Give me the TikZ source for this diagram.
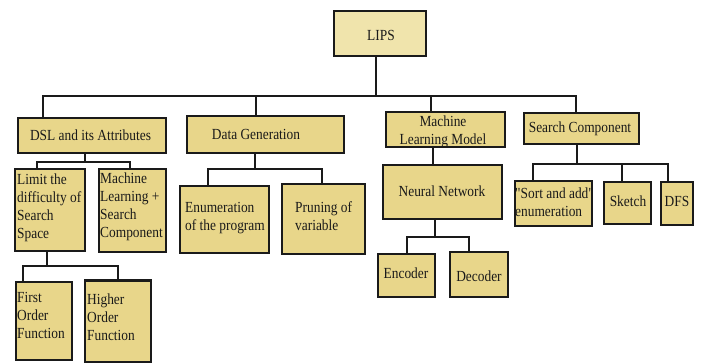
\documentclass[tikz,border=0pt]{standalone}
\usepackage{fontspec}
\setmainfont{Liberation Serif}[FakeStretch=0.87, Ligatures=TeXOff]
\definecolor{boxfill}{HTML}{E8D68A}
\definecolor{lipsfill}{HTML}{F0E4AC}
\definecolor{ink}{HTML}{1A1A1A}
\newcommand{\firstln}{\rule{0pt}{11pt}}
\begin{document}
\begin{tikzpicture}[x=1pt,y=-1pt,
  box/.style={draw=ink, line width=2.6pt, fill=boxfill, inner sep=0pt},
  conn/.style={draw=ink, line width=1.8pt},
  txt/.style={inner sep=0pt, text=ink, font=\fontsize{15.4}{18}\selectfont},
  mtxt/.style={txt, align=left, anchor=north west}]
\useasboundingbox (0,0) rectangle (702,363);
% boxes
\node[box, fill=lipsfill, minimum width=92pt, minimum height=45pt] (lips) at (380,33.5) {};
\node[box, minimum width=148pt, minimum height=35pt] (dsl) at (92,135.5) {};
\node[box, minimum width=157pt, minimum height=37pt] (dg) at (265.5,134.5) {};
\node[box, minimum width=119pt, minimum height=35pt] (ml) at (445.5,129.5) {};
\node[box, minimum width=115pt, minimum height=31pt] (sc) at (581.5,128.5) {};
\node[box, minimum width=70pt, minimum height=82pt] (limit) at (50,210) {};
\node[box, minimum width=67pt, minimum height=83pt] (mls) at (132.5,210.5) {};
\node[box, minimum width=56pt, minimum height=78pt] (fof) at (44,321) {};
\node[box, minimum width=66pt, minimum height=82pt] (hof) at (118,321.5) {};
\node[box, minimum width=89pt, minimum height=67pt] (enum) at (224.5,219.5) {};
\node[box, minimum width=83pt, minimum height=70pt] (prun) at (323.5,219) {};
\node[box, minimum width=119pt, minimum height=54pt] (nn) at (442.5,192) {};
\node[box, minimum width=57pt, minimum height=43pt] (enc) at (406.5,275.5) {};
\node[box, minimum width=58pt, minimum height=45pt] (dec) at (479,274.5) {};
\node[box, minimum width=77pt, minimum height=45pt] (sort) at (553.5,203.5) {};
\node[box, minimum width=47pt, minimum height=42pt] (sketch) at (627.5,203) {};
\node[box, minimum width=32pt, minimum height=43pt] (dfs) at (677,203.5) {};
% texts
\node[txt, anchor=base] (tlips) at (381,41) {LIPS};
\node[txt, anchor=base] (tdsl) at (90.5,141) {DSL and its Attributes};
\node[txt, anchor=base] (tdg) at (256,140) {Data Generation};
\node[txt, align=center, anchor=north] (tml) at (443,115) {\firstln Machine\\Learning Model};
\node[txt, anchor=base] (tsc) at (580,133) {Search Component};
\node[mtxt] (tlimit) at (17,173) {\firstln Limit the\\difficulty of\\Search\\Space};
\node[mtxt] (tmls) at (100,172) {\firstln Machine\\Learning +\\Search\\Component};
\node[mtxt] (tenum) at (185,201) {\firstln Enumeration\\of the program};
\node[mtxt] (tprun) at (295,201) {\firstln Pruning of\\variable};
\node[mtxt] (tfof) at (17,291) {\firstln First\\Order\\Function};
\node[mtxt] (thof) at (87,293) {\firstln Higher\\Order\\Function};
\node[txt, anchor=base] (tnn) at (442,197) {Neural Network};
\node[txt, anchor=base] (tenc) at (406,279) {Encoder};
\node[txt, anchor=base] (tdec) at (479,282) {Decoder};
\node[mtxt] (tsort) at (515,187) {\firstln "Sort and add"\\enumeration};
\node[txt, anchor=base] (tsketch) at (628,207) {Sketch};
\node[txt, anchor=base] (tdfs) at (677,207) {DFS};
% connectors
\coordinate (j0) at (376,96);
\draw[conn] (376,0 |- lips.south) -- (j0);
\draw[conn] (43,0 |- dsl.north) -- (43,96) -- (576,96) -- (576,0 |- sc.north);
\draw[conn] (256,96) -- (256,0 |- dg.north);
\draw[conn] (431,96) -- (431,0 |- ml.north);
% DSL
\draw[conn] (85,0 |- dsl.south) -- (85,162);
\draw[conn] (37,0 |- limit.north) -- (37,162) -- (130,162) -- (130,0 |- mls.north);
% Limit
\draw[conn] (47,0 |- limit.south) -- (47,266);
\draw[conn] (23,0 |- fof.north) -- (23,266) -- (118,266) -- (118,0 |- hof.north);
% Data generation
\draw[conn] (255,0 |- dg.south) -- (255,169);
\draw[conn] (208,0 |- enum.north) -- (208,169) -- (322,169) -- (322,0 |- prun.north);
% ML
\draw[conn] (433,0 |- ml.south) -- (433,0 |- nn.north);
% NN
\draw[conn] (435,0 |- nn.south) -- (435,237);
\draw[conn] (407,0 |- enc.north) -- (407,237) -- (469,237) -- (469,0 |- dec.north);
% SC
\draw[conn] (577,0 |- sc.south) -- (577,164);
\draw[conn] (533,0 |- sort.north) -- (533,164) -- (668,164) -- (668,0 |- dfs.north);
\draw[conn] (622,164) -- (622,0 |- sketch.north);
\end{tikzpicture}
\end{document}
